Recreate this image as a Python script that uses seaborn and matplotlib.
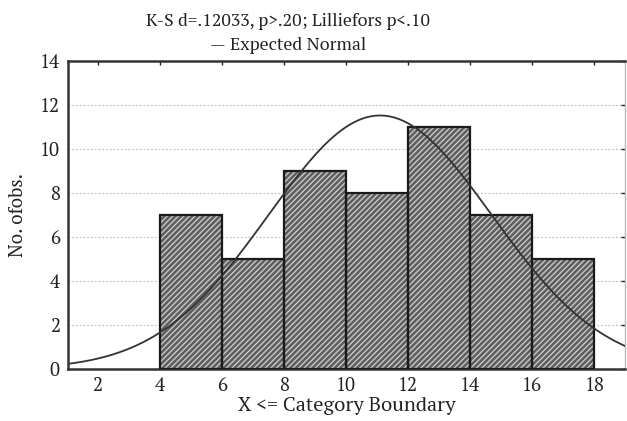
import numpy as np
import pandas as pd
import matplotlib
matplotlib.use("Agg")
import matplotlib.pyplot as plt
from matplotlib import font_manager
from matplotlib.font_manager import FontProperties
import seaborn as sns

# Histogram: class boundaries and observed frequencies
bin_edges = [4, 6, 8, 10, 12, 14, 16, 18]
counts = [7, 5, 9, 8, 11, 7, 5]
# Expected normal parameters
norm_mean = 11.1
norm_sd = 3.6
x_ticks = [2, 4, 6, 8, 10, 12, 14, 16, 18]
y_ticks = [0, 2, 4, 6, 8, 10, 12, 14]

title_line1 = "K-S d=.12033, p>.20; Lilliefors p<.10"
title_line2 = "\u2014 Expected Normal"
x_label = "X <= Category Boundary"
y_label = "No. ofobs."

FS = 13.5
INK = "#222222"


def regular_font(names, size):
    """Pick the plain upright, normal-width face of the first family found."""
    for name in names:
        for f in font_manager.fontManager.ttflist:
            if (f.name == name and f.style == "normal" and f.weight in (400, "normal")
                    and f.stretch in ("normal", 500)):
                return FontProperties(fname=f.fname, size=size)
    return FontProperties(family="DejaVu Serif", size=size)


fp = regular_font(["PT Serif", "Liberation Serif", "DejaVu Serif"], FS)
fp_xl = regular_font(["PT Serif", "Liberation Serif", "DejaVu Serif"], 14.5)
fp_title = regular_font(["PT Serif", "Liberation Serif", "DejaVu Serif"], 12.8)

sns.set_theme(style="white")
plt.rcParams["hatch.linewidth"] = 1.0

mids = [(a + b) / 2 for a, b in zip(bin_edges[:-1], bin_edges[1:])]
df = pd.DataFrame({"x": mids, "n": counts})

fig = plt.figure(figsize=(6.27, 4.21), dpi=100)
ax = fig.add_axes([0.1085, 0.1235, 0.889, 0.7315])

# hatched fill
sns.histplot(data=df, x="x", weights="n", bins=bin_edges, ax=ax,
             color="#5e5e5e", edgecolor="#c8c8c8", linewidth=0, alpha=1)
for p in ax.patches:
    p.set_hatch("//////")
    p.set_zorder(2)
n_fill = len(ax.patches)
# outlines
sns.histplot(data=df, x="x", weights="n", bins=bin_edges, ax=ax,
             fill=False, color="#1a1a1a", linewidth=1.6)
for p in ax.patches[n_fill:]:
    p.set_edgecolor("#1a1a1a")
    p.set_zorder(3)

# expected normal curve scaled to counts
n_total = sum(counts)
width = bin_edges[1] - bin_edges[0]
xs = np.linspace(1.0, 19.0, 400)
ys = n_total * width / (norm_sd * np.sqrt(2 * np.pi)) * np.exp(-0.5 * ((xs - norm_mean) / norm_sd) ** 2)
sns.lineplot(x=xs, y=ys, ax=ax, color="#333333", linewidth=1.3, zorder=4)

ax.set_xlim(1.05, 19.0)
ax.set_ylim(0, 14)
ax.set_xticks(x_ticks)
ax.set_yticks(y_ticks)
ax.set_xticklabels([str(v) for v in x_ticks], fontproperties=fp, color=INK)
ax.set_yticklabels([str(v) for v in y_ticks], fontproperties=fp, color=INK)
ax.yaxis.grid(True, linestyle=(0, (1.5, 1.5)), color="#c4c4c4", linewidth=0.9, zorder=0)
ax.set_axisbelow(True)
ax.tick_params(axis="both", direction="in", length=3, width=1, colors="#222222",
               top=True, right=True, pad=6)
for s in ["left", "bottom", "top"]:
    ax.spines[s].set_color("#333333")
    ax.spines[s].set_linewidth(1.8)
ax.spines["right"].set_color("#bbbbbb")
ax.spines["right"].set_linewidth(1.0)

ax.set_xlabel(x_label, fontproperties=fp_xl, color=INK, labelpad=1)
ax.set_ylabel(y_label, fontproperties=fp, color=INK, labelpad=9)

fig.text(0.459, 0.948, title_line1, ha="center", va="center", fontproperties=fp_title, color=INK)
fig.text(0.459, 0.893, title_line2, ha="center", va="center", fontproperties=fp_title, color=INK)

fig.savefig("out.png", dpi=100)
